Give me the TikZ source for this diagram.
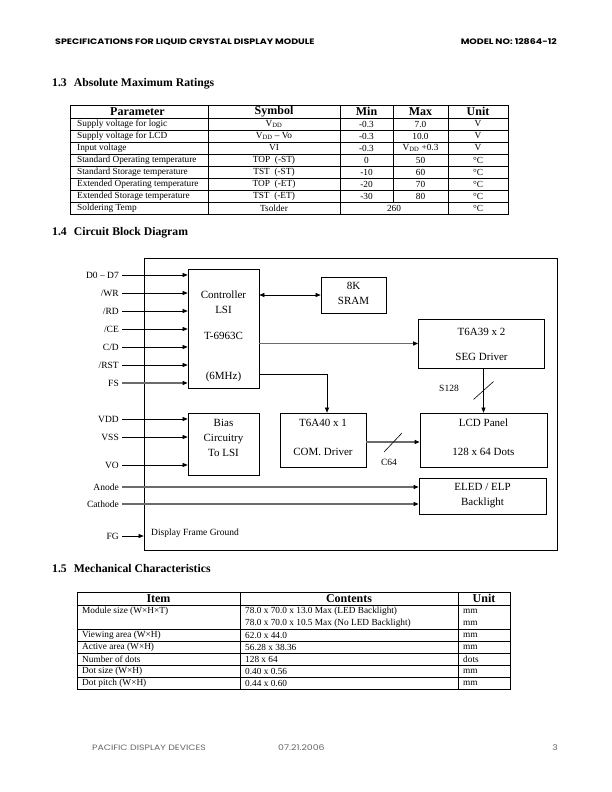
\documentclass[tikz,border=0pt]{standalone}
\usepackage{fontspec}
\setmainfont{Liberation Serif}
\newfontfamily\hdrfont{Poppins}[FakeStretch=1.2]
\newfontfamily\ftrfont{Poppins}[FakeStretch=1.2]
\usetikzlibrary{arrows.meta, positioning}

\tikzset{
  blk/.style={draw, line width=0.7pt, inner sep=0pt},
  sig/.style={line width=0.6pt, -{Triangle[length=5pt,width=4pt]}},
  bsig/.style={line width=0.6pt, {Triangle[length=5pt,width=4pt]}-{Triangle[length=5pt,width=4pt]}},
  gsig/.style={line width=1.1pt, draw=black!58, -{Triangle[length=5pt,width=4pt,color=black]}},
  pin/.style={anchor=east, inner sep=0pt, font=\fontsize{9.5}{11}\selectfont},
  btxt/.style={align=center, inner sep=0pt, font=\fontsize{11}{15}\selectfont},
  sec/.style={anchor=west, inner sep=0pt, font=\bfseries\fontsize{11.7}{13}\selectfont},
  th/.style={inner sep=0pt, font=\bfseries\fontsize{12}{13}\selectfont},
  td/.style={inner sep=0pt, font=\fontsize{9.3}{12}\selectfont},
  tdl/.style={td, anchor=west},
  rule/.style={line width=0.5pt},
  edge/.style={line width=0.9pt},
  pg/.style={inner sep=0pt, font=\hdrfont\bfseries\fontsize{7.9}{9}\selectfont},
  pf/.style={inner sep=0pt, text=black!60, font=\ftrfont\fontsize{7.8}{9}\selectfont},
}

\begin{document}
\begin{tikzpicture}[x=1pt, y=-1pt]
  \useasboundingbox (0,0) rectangle (612,792);

  % Page header and footer
  \node[pg, anchor=west] (hdrL) at (55,42) {SPECIFICATIONS FOR LIQUID CRYSTAL DISPLAY MODULE};
  \node[pg, anchor=east] (hdrR) at (557,42) {MODEL NO: 12864-12};
  \node[pf, anchor=west] (ftrL) at (92,748) {PACIFIC DISPLAY DEVICES};
  \node[pf, anchor=west] (ftrM) at (278,748) {07.21.2006};
  \node[pf, anchor=east] (ftrR) at (558,748) {3};

  % Section titles
  \node[sec] (s13) at (52,84) {1.3\hspace{0.6em}Absolute Maximum Ratings};
  \node[sec] (s14) at (52,233) {1.4\hspace{0.6em}Circuit Block Diagram};
  \node[sec] (s15) at (52,569) {1.5\hspace{0.6em}Mechanical Characteristics};

  % Absolute maximum ratings table
  \draw[edge] (70,105) rectangle (508,214);
  \foreach \yy in {118,130,...,202} \draw[rule] (70,\yy) -- (508,\yy);
  \draw[rule] (208,105) -- (208,214);
  \draw[rule] (340,105) -- (340,214);
  \draw[rule] (393,105) -- (393,202);
  \draw[rule] (448,105) -- (448,214);
  \node[th] (hPar) at (137.5,111.5) {Parameter};
  \node[th] (hSym) at (274,111.5) {Symbol};
  \node[th] (hMin) at (366.5,111.5) {Min};
  \node[th] (hMax) at (420.5,111.5) {Max};
  \node[th] (hUni) at (478,111.5) {Unit};
  \foreach \yy/\pa/\sy/\mi/\ma/\un in {
      124/Supply voltage for logic/V\textsubscript{DD}/-0.3/7.0/V,
      136/Supply voltage for LCD/V\textsubscript{DD} -- Vo/-0.3/10.0/V,
      148/Input voltage/VI/-0.3/V\textsubscript{DD} +0.3/V,
      160/Standard Operating temperature/TOP\ \ (-ST)/0/50/°C,
      172/Standard Storage temperature/TST\ \ (-ST)/-10/60/°C,
      184/Extended Operating temperature/TOP\ \ (-ET)/-20/70/°C,
      196/Extended Storage temperature/TST\ \ (-ET)/-30/80/°C}{
    \node[tdl] (par\yy) at (77,\yy) {\pa};
    \node[td] (sym\yy) at (274,\yy) {\sy};
    \node[td] (min\yy) at (366.5,\yy) {\mi};
    \node[td] (max\yy) at (420.5,\yy) {\ma};
    \node[td] (uni\yy) at (478,\yy) {\un};
  }
  \node[tdl] (par208) at (77,208) {Soldering Temp};
  \node[td] (sym208) at (274,208) {Tsolder};
  \node[td] (mm208) at (394,208) {260};
  \node[td] (uni208) at (478,208) {°C};

  % Block diagram
  \node[blk, minimum width=413pt, minimum height=292pt] (frame) at (350.5,404) {};
  \node[blk, minimum width=71pt, minimum height=119pt] (ctrl) at (223.5,328.5) {};
  \node[blk, minimum width=65pt, minimum height=36pt] (sram) at (353.5,295) {};
  \node[blk, minimum width=126pt, minimum height=49pt] (seg) at (481.5,343.5) {};
  \node[blk, minimum width=71pt, minimum height=62pt] (bias) at (223.5,444) {};
  \node[blk, minimum width=86pt, minimum height=54pt] (com) at (323,440) {};
  \node[blk, minimum width=127pt, minimum height=54pt] (lcd) at (483.5,440) {};
  \node[blk, minimum width=127pt, minimum height=36pt] (eled) at (482.5,496) {};

  \node[btxt] (ctrlA) at (223.5,302.5) {Controller\\LSI};
  \node[btxt] (ctrlB) at (223.5,336) {T-6963C};
  \node[btxt] (ctrlC) at (223.5,377) {(6MHz)};
  \node[btxt] (sramT) at (353.5,293) {8K\\SRAM};
  \node[btxt] (segT) at (481.5,344.5) {T6A39 x 2\\[10pt]SEG Driver};
  \node[btxt] (biasT) at (223.5,438) {Bias\\Circuitry\\To LSI};
  \node[btxt] (comT) at (323,437.5) {T6A40 x 1\\[14pt]COM. Driver};
  \node[btxt] (lcdT) at (483.5,437.5) {LCD Panel\\[14pt]128 x 64 Dots};
  \node[btxt] (eledT) at (482.5,495.5) {ELED / ELP\\Backlight};

  % Interface pins
  \node[pin] (pD) at (119,275) {D0 -- D7};
  \node[pin] (pWR) at (119,293) {/WR};
  \node[pin] (pRD) at (119,311) {/RD};
  \node[pin] (pCE) at (119,329) {/CE};
  \node[pin] (pCD) at (119,347) {C/D};
  \node[pin] (pRST) at (119,365) {/RST};
  \node[pin] (pFS) at (119,383) {FS};
  \node[pin] (pVDD) at (119,419) {VDD};
  \node[pin] (pVSS) at (119,437) {VSS};
  \node[pin] (pVO) at (119,465) {VO};
  \node[pin] (pAn) at (119,487) {Anode};
  \node[pin] (pCa) at (119,504) {Cathode};
  \node[pin] (pFG) at (119,536) {FG};
  \node[pin, anchor=west] (fgT) at (151,533) {Display Frame Ground};

  \draw[sig] ([xshift=3pt]pD.east) -- (pD.east -| ctrl.west);
  \draw[sig] ([xshift=3pt]pWR.east) -- (pWR.east -| ctrl.west);
  \draw[sig] ([xshift=3pt]pRD.east) -- (pRD.east -| ctrl.west);
  \draw[sig] ([xshift=3pt]pCE.east) -- (pCE.east -| ctrl.west);
  \draw[sig] ([xshift=3pt]pCD.east) -- (pCD.east -| ctrl.west);
  \draw[sig] ([xshift=3pt]pRST.east) -- (pRST.east -| ctrl.west);
  \draw[gsig] ([xshift=3pt]pFS.east) -- (pFS.east -| ctrl.west);
  \draw[sig] ([xshift=3pt]pVDD.east) -- (pVDD.east -| bias.west);
  \draw[sig] ([xshift=3pt]pVSS.east) -- (pVSS.east -| bias.west);
  \draw[sig] ([xshift=3pt]pVO.east) -- (pVO.east -| bias.west);
  \draw[gsig] ([xshift=3pt]pAn.east) -- (pAn.east -| eled.west);
  \draw[gsig] ([xshift=3pt]pCa.east) -- (pCa.east -| eled.west);
  \draw[sig] ([xshift=3pt]pFG.east) -- (pFG.east -| frame.west);

  % Internal connections
  \draw[bsig] (sram.west -| ctrl.east) -- (sram.west);
  \draw[gsig] (seg.west -| ctrl.east) -- (seg.west);
  \draw[sig] ([yshift=14pt]ctrl.south east) -| ([xshift=4pt]com.north);
  \draw[sig] (lcd.north |- seg.south) -- (lcd.north);
  \path (lcd.north |- seg.south) -- (lcd.north) coordinate[pos=0.5] (sMid);
  \draw[line width=0.6pt] ([shift={(-10,9)}]sMid) -- ([shift={(10,-9)}]sMid);
  \node[pin, anchor=center] (sLbl) at (449,388) {S128};
  \draw[gsig] ([yshift=-2pt]com.east) -- ([yshift=-2pt]lcd.west);
  \path ([yshift=-2pt]com.east) -- ([yshift=-2pt]lcd.west) coordinate[pos=0.5] (cMid);
  \draw[line width=0.6pt] ([shift={(-9,10)}]cMid) -- ([shift={(9,-9)}]cMid);
  \node[pin, anchor=center] (cLbl) at (389,462) {C64};

  % Mechanical characteristics table
  \draw[edge] (77,592) rectangle (510,689);
  \foreach \yy in {605,629,641,653,665,677} \draw[rule] (77,\yy) -- (510,\yy);
  \draw[rule] (240,592) -- (240,689);
  \draw[rule] (458,592) -- (458,689);
  \node[th] (hItm) at (158.5,598.5) {Item};
  \node[th] (hCon) at (349,598.5) {Contents};
  \node[th] (hUn2) at (484,598.5) {Unit};
  \node[tdl] (itm611) at (82,611) {Module size (W×H×T)};
  \node[tdl] (con611) at (245,611) {78.0 x 70.0 x 13.0 Max (LED Backlight)};
  \node[tdl] (con623) at (245,623) {78.0 x 70.0 x 10.5 Max (No LED Backlight)};
  \node[tdl] (un611) at (463,611) {mm};
  \node[tdl] (un623) at (463,623) {mm};
  \foreach \yy/\it/\co/\un in {
      635/Viewing area (W×H)/62.0 x 44.0/mm,
      647/Active area (W×H)/56.28 x 38.36/mm,
      659/Number of dots/128 x 64/dots,
      671/Dot size (W×H)/0.40 x 0.56/mm,
      683/Dot pitch (W×H)/0.44 x 0.60/mm}{
    \node[tdl] (itm\yy) at (82,\yy) {\it};
    \node[tdl] (con\yy) at (245,\yy) {\co};
    \node[tdl] (un\yy) at (463,\yy) {\un};
  }
\end{tikzpicture}
\end{document}
